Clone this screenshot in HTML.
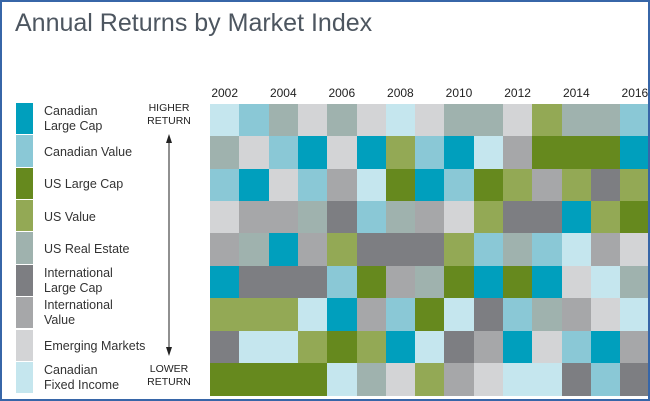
<!DOCTYPE html>
<html><head><style>
body{margin:0;width:650px;height:401px;overflow:hidden;background:#fff;font-family:"Liberation Sans",sans-serif;}
.t{position:absolute;left:15px;top:9px;font-size:25px;color:#4d5660;}
.lab{position:absolute;left:44px;font-size:12.5px;line-height:15px;color:#333;}
.sw{position:absolute;left:16px;width:17px;}
.yr{position:absolute;top:86px;font-size:12px;color:#222;width:40px;text-align:center;}
.c{position:absolute;}
.hr{position:absolute;font-size:10.5px;line-height:13px;color:#222;text-align:center;width:60px;}
</style></head><body>
<div class="t">Annual Returns by Market Index</div>
<div id="root"></div>
<svg style="position:absolute;left:0;top:0" width="650" height="401">
<line x1="169" y1="142" x2="169" y2="350" stroke="#222" stroke-width="1"/>
<polygon points="169,134 166,143 172,143" fill="#222"/>
<polygon points="169,356 166,347 172,347" fill="#222"/>
</svg>
<div class="hr" style="left:139px;top:102px">HIGHER<br>RETURN</div>
<div class="hr" style="left:139px;top:363px">LOWER<br>RETURN</div>
<script>
var C={A:'#009fbd',B:'#8ac8d6',C:'#66891e',D:'#93a955',E:'#9fb2ae',F:'#7d7e82',G:'#a6a7a9',H:'#d3d4d6',I:'#c5e6ee'};
var rows=["IBEHEHIHEEHDEEB","EHBAHADBAIGCCCA","BAHBGICABCDGDFD","HGGEFBEGHDFFADC","GEAGDFFFDBEBIGH","AFFFBCGECACAHIE","DDDIAGBCIFBEGHI","FIIDCDAIFGAHBAG","CCCCIEHDGHIIFBF"];
var labs=[["Canadian<br>Large Cap",-1],["Canadian Value",0],["US Large Cap",0],["US Value",0],["US Real Estate",0],["International<br>Large Cap",-1],["International<br>Value",-1],["Emerging Markets",0],["Canadian<br>Fixed Income",-1]];
var h='',x0=210,cw=29.3,y0=104,rh=32.35;
for(var r=0;r<9;r++){for(var c=0;c<15;c++){var x=x0+c*cw;h+='<div class="c" style="left:'+x.toFixed(1)+'px;top:'+(y0+r*rh).toFixed(1)+'px;width:'+(cw+0.6).toFixed(1)+'px;height:'+(rh+0.6).toFixed(1)+'px;background:'+C[rows[r][c]]+'"></div>';}
 h+='<div class="sw" style="top:'+(y0-1+r*rh).toFixed(1)+'px;height:'+(rh-1).toFixed(1)+'px;background:'+C['ABCDEFGHI'[r]]+'"></div>';
 var two=labs[r][0].indexOf('<br>')>0;var cy=y0+r*rh+rh/2+labs[r][1];
 h+='<div class="lab" style="top:'+(cy-(two?15:7.5)).toFixed(1)+'px">'+labs[r][0]+'</div>';}
for(var c=0;c<15;c+=2){h+='<div class="yr" style="left:'+(x0+c*cw+cw/2-20).toFixed(1)+'px">'+(2002+c)+'</div>';}
document.getElementById('root').innerHTML=h;
</script>
<div style="position:absolute;left:0;top:0;width:646px;height:397px;border:2px solid #3766a8;pointer-events:none"></div>
</body></html>
